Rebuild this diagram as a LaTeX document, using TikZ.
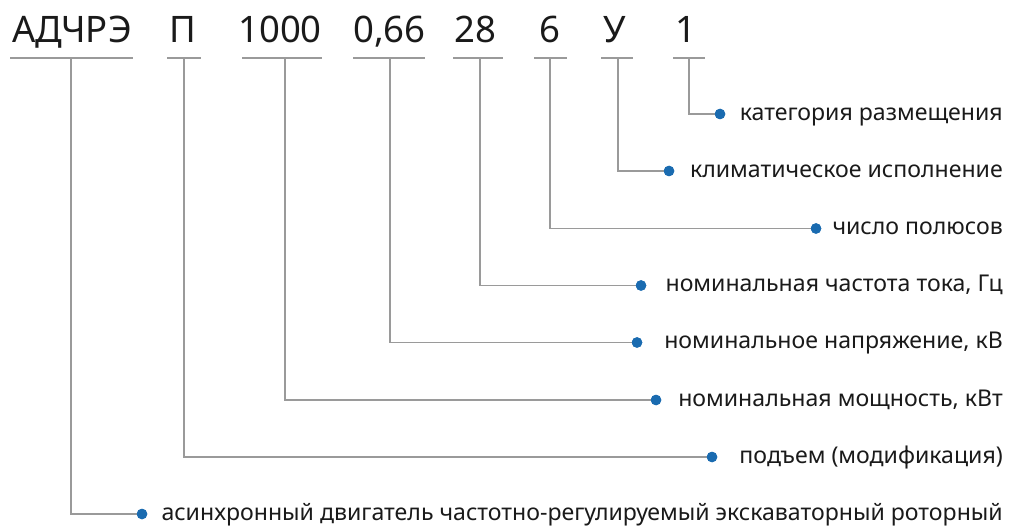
\documentclass[tikz,border=0pt]{standalone}
\usepackage{fontspec}
\setmainfont{Noto Sans}
\definecolor{lineg}{HTML}{9A9A9A}
\definecolor{dotb}{HTML}{1A6BB0}
\definecolor{txt}{HTML}{1A1A1A}
\begin{document}
\begin{tikzpicture}[x=1pt,y=-1pt,
  code/.style={anchor=base,inner sep=0pt,font=\fontsize{36.5}{42}\selectfont,text=txt},
  lab/.style={anchor=base east,inner sep=0pt,font=\fontsize{23.1}{27}\selectfont,text=txt},
  dotn/.style={circle,fill=dotb,inner sep=0pt,minimum size=10.5pt},
  conn/.style={draw=lineg,line width=1.5pt},
  uline/.style={draw=lineg,line width=1.5pt}]
\useasboundingbox (0,0) rectangle (1009,526);
% codes
\node[code] (c1) at (72,43) {АДЧРЭ};
\node[code] (c2) at (183,43) {П};
\node[code] (c3) at (280,43) {1000};
\node[code] (c4) at (389.5,43) {0,66};
\node[code] (c5) at (475,43) {28};
\node[code] (c6) at (550,43) {6};
\node[code] (c7) at (614.5,43) {У};
\node[code] (c8) at (686,43) {1};
% underlines
\coordinate (a1) at (10,58);  \coordinate (b1) at (133,58);
\coordinate (a2) at (167,58); \coordinate (b2) at (201,58);
\coordinate (a3) at (242,58); \coordinate (b3) at (322,58);
\coordinate (a4) at (353,58); \coordinate (b4) at (425,58);
\coordinate (a5) at (453,58); \coordinate (b5) at (503,58);
\coordinate (a6) at (534,58); \coordinate (b6) at (567,58);
\coordinate (a7) at (601,58); \coordinate (b7) at (633,58);
\coordinate (a8) at (673,58); \coordinate (b8) at (705,58);
\foreach \i in {1,...,8} {\draw[uline] (a\i) -- (b\i);}
\coordinate (u1) at (71,58);
\coordinate (u2) at (184,58);
\coordinate (u3) at (285,58);
\coordinate (u4) at (390,58);
\coordinate (u5) at (480,58);
\coordinate (u6) at (550,58);
\coordinate (u7) at (618,58);
\coordinate (u8) at (689,58);
% dots
\node[dotn] (d8) at (720,114) {};
\node[dotn] (d7) at (669,171) {};
\node[dotn] (d6) at (816,228.5) {};
\node[dotn] (d5) at (641,285.5) {};
\node[dotn] (d4) at (637,342.5) {};
\node[dotn] (d3) at (656,400) {};
\node[dotn] (d2) at (712,457) {};
\node[dotn] (d1) at (142,514) {};
% labels
\node[lab] (l8) at (1003,120.5) {категория размещения};
\node[lab] (l7) at (1003,177.5) {климатическое исполнение};
\node[lab] (l6) at (1003,235) {число полюсов};
\node[lab] (l5) at (1003,292) {номинальная частота тока, Гц};
\node[lab] (l4) at (1003,349) {номинальное напряжение, кВ};
\node[lab] (l3) at (1003,406.5) {номинальная мощность, кВт};
\node[lab] (l2) at (1003,463.5) {подъем (модификация)};
\node[lab] (l1) at (1003,520.5) {асинхронный двигатель частотно-регулируемый экскаваторный роторный};
\foreach \i in {1,...,8} {
  \draw[conn] (u\i) |- (d\i.center);
  \node[dotn] at (d\i) {};
}
\end{tikzpicture}
\end{document}
